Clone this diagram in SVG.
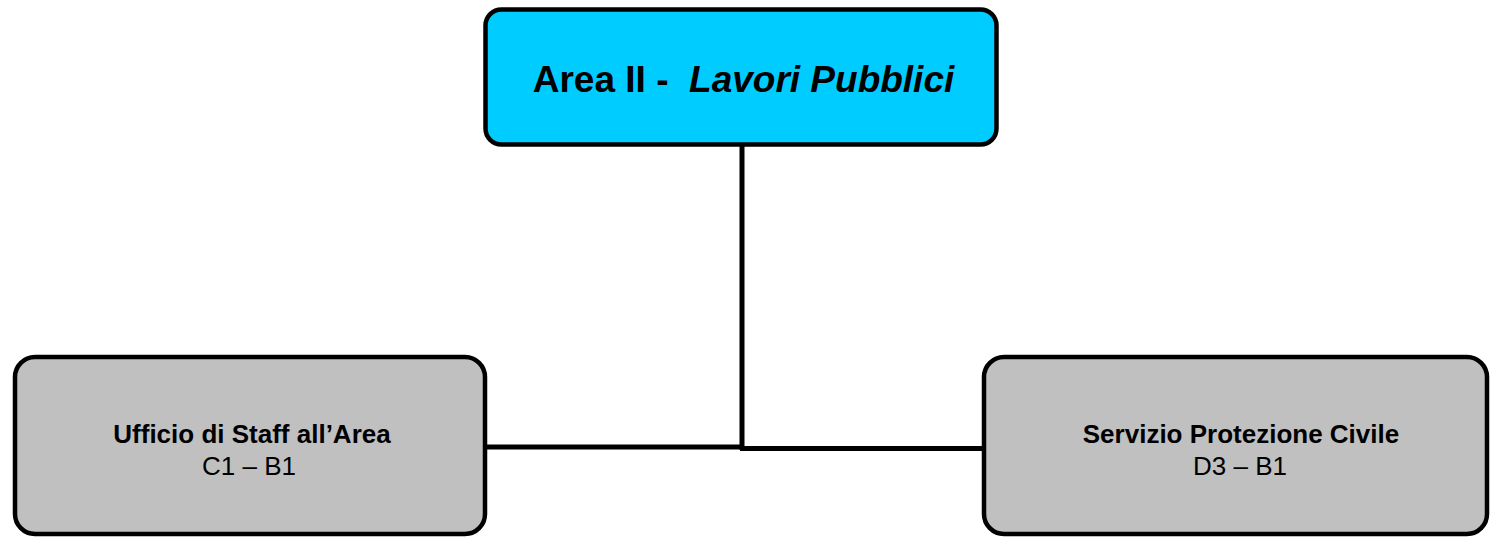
<svg xmlns="http://www.w3.org/2000/svg" width="1491" height="539" viewBox="0 0 1491 539">
<style>
.box{stroke:#000;stroke-width:4.5}
.top{fill:#00CCFF}
.sub{fill:#C0C0C0}
.conn{stroke:#000;stroke-width:5;fill:none}
text{font-family:"Liberation Sans",Arial,sans-serif;fill:#000}
.b{font-weight:bold}
</style>
<rect width="1491" height="539" fill="#fff"/>
<g id="connectors">
<line class="conn" x1="742" y1="146" x2="742" y2="450"/>
<line class="conn" x1="486" y1="447" x2="744" y2="447"/>
<line class="conn" x1="740" y1="448.5" x2="984" y2="448.5"/>
</g>
<g id="area2">
<rect class="box top" x="485.5" y="9.5" width="511" height="135" rx="16"/>
<text x="743.5" y="92" font-size="37" text-anchor="middle" xml:space="preserve"><tspan class="b">Area II - </tspan><tspan class="b" font-style="italic"> Lavori Pubblici</tspan></text>
</g>
<g id="staff">
<rect class="box sub" x="15" y="357" width="470" height="177" rx="20"/>
<text x="252" y="443" font-size="26" text-anchor="middle" class="b">Ufficio di Staff all’Area</text>
<text x="249" y="475" font-size="26" text-anchor="middle">C1 – B1</text>
</g>
<g id="protezione">
<rect class="box sub" x="984" y="357" width="503" height="177" rx="20"/>
<text x="1241" y="443" font-size="26" text-anchor="middle" class="b">Servizio Protezione Civile</text>
<text x="1240" y="475" font-size="26" text-anchor="middle">D3 – B1</text>
</g>
</svg>
